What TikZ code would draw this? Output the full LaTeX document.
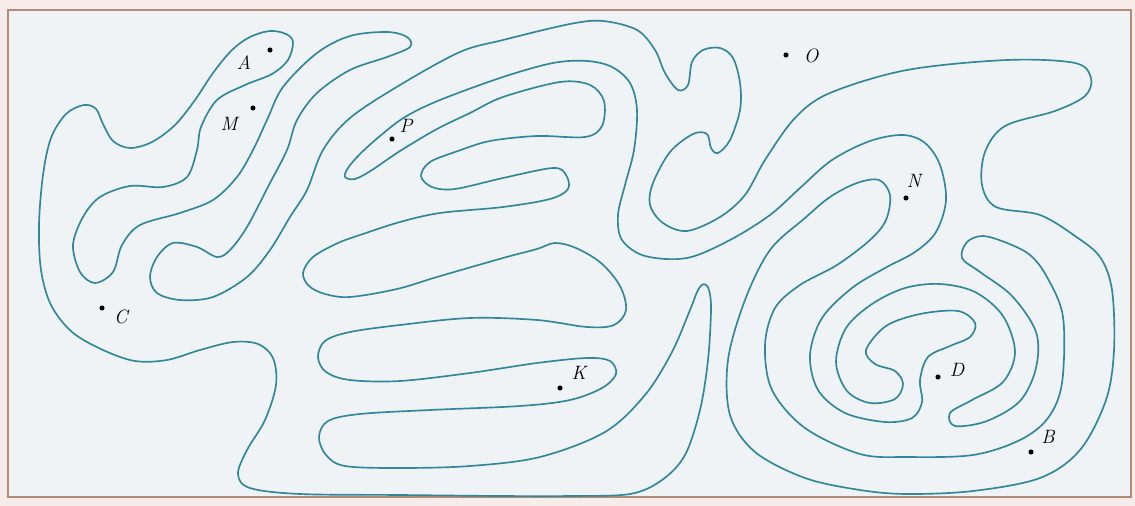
\documentclass[tikz,border=0pt]{standalone}
\usepackage{tikz}
\definecolor{mazeblue}{RGB}{50,135,155}
\definecolor{paper}{RGB}{239,243,246}
\definecolor{outer}{RGB}{246,236,234}
\definecolor{framec}{RGB}{180,140,120}
\tikzset{
  maze/.style={draw=mazeblue, line width=0.95pt, line join=round},
  pt/.style={circle, fill=black, inner sep=0pt, minimum size=2.9pt},
  lab/.style={font=\fontsize{11}{13}\selectfont\itshape, inner sep=0pt}
}
\begin{document}
\begin{tikzpicture}[x=0.02cm, y=-0.02cm]
\useasboundingbox (0,0) rectangle (1135,506);
\fill[outer] (0,0) rectangle (1135,506);
\draw[framec, fill=paper, line width=0.8pt] (8,10) rectangle (1131,497);
\draw[maze] plot[smooth cycle, tension=0.55] coordinates {
(293,42) (286,34) (270,31) (250,37) (232,50) (213,73) (195,100) (175,125) (152,142) (130,148) (113,141) (103,124) (96,109) (84,105) (66,114) (51,138) (43,175) (39,225) (41,270) (51,305) (72,332) (103,350) (135,361) (167,360) (200,350) (233,342) (258,344) (273,358) (276,385) (265,420) (247,450) (238,474) (250,488) (300,494) (400,495) (500,496) (570,496) (630,494) (662,480) (685,455) (700,410) (708,360) (711,310) (709,290) (704,284) (698,290) (690,310) (672,352) (645,395) (605,432) (540,457) (470,466) (400,468) (345,466) (326,455) (319,437) (328,421) (360,414) (430,410) (520,406) (570,400) (602,388) (616,374) (610,361) (587,358) (537,363) (470,373) (400,381) (350,380) (326,372) (318,357) (325,341) (350,332) (400,325) (470,318) (537,320) (587,327) (614,325) (626,310) (620,286) (601,263) (576,248) (555,243) (537,249) (503,258) (437,277) (397,289) (350,297) (325,294) (309,286) (303,273) (313,257) (338,243) (363,234) (400,222) (440,213) (503,207) (550,199) (568,189) (566,175) (553,168) (503,178) (455,189) (432,187) (421,176) (430,162) (458,151) (490,141) (537,136) (585,137) (602,126) (604,101) (590,85) (560,82) (503,97) (470,113) (437,129) (400,151) (372,170) (355,179) (345,177) (348,168) (360,154) (380,136) (405,117) (440,100) (503,77) (553,63) (587,61) (612,67) (630,83) (637,110) (634,150) (625,185) (618,215) (622,240) (645,256) (687,258) (730,240) (770,215) (800,188) (832,160) (870,141) (903,135) (925,143) (940,165) (946,200) (936,232) (915,252) (885,268) (852,288) (822,318) (810,355) (818,390) (845,413) (885,422) (912,418) (922,402) (920,380) (928,357) (950,346) (970,337) (975,323) (958,311) (920,314) (886,326) (866,350) (875,364) (895,371) (903,384) (895,399) (870,403) (847,391) (836,362) (846,328) (872,304) (905,288) (940,284) (975,292) (1003,316) (1015,352) (1003,382) (972,400) (950,413) (955,426) (987,421) (1020,401) (1036,368) (1036,332) (1012,296) (980,272) (962,258) (967,242) (983,236) (1007,243) (1030,255) (1047,277) (1063,317) (1062,383) (1048,418) (1020,440) (973,455) (907,457) (860,454) (805,428) (772,390) (765,345) (775,308) (800,285) (837,265) (870,240) (886,220) (890,195) (879,180) (857,183) (830,197) (805,218) (770,250) (745,300) (728,360) (730,415) (755,452) (805,478) (860,490) (907,494) (973,491) (1040,478) (1080,450) (1106,400) (1114,350) (1112,290) (1100,257) (1075,236) (1040,215) (996,207) (982,185) (985,152) (1005,126) (1055,111) (1085,96) (1091,78) (1075,63) (1007,60) (907,70) (830,93) (795,118) (765,160) (745,195) (720,217) (687,231) (663,223) (650,205) (653,183) (670,152) (693,134) (707,134) (711,148) (718,153) (730,140) (740,110) (740,83) (733,58) (720,48) (703,50) (692,62) (688,85) (678,90) (665,73) (655,50) (637,30) (603,21) (570,24) (503,40) (460,52) (400,85) (350,118) (323,150) (307,190) (290,217) (270,250) (247,277) (213,297) (180,300) (157,293) (150,277) (157,257) (173,243) (197,247) (217,257) (230,250) (247,227) (270,183) (287,150) (297,120) (317,93) (350,70) (387,57) (410,47) (407,37) (387,32) (350,36) (317,53) (283,87) (267,120) (253,150) (237,177) (213,200) (180,213) (140,225) (122,245) (113,272) (95,283) (80,272) (73,245) (83,217) (100,197) (130,186) (163,187) (187,177) (197,150) (201,127) (217,100) (245,85) (272,74) (288,60)
};
% points
\node[pt] (pA) at (270,50) {};
\node[pt] (pM) at (253,108) {};
\node[pt] (pP) at (392,139) {};
\node[pt] (pO) at (786,55) {};
\node[pt] (pN) at (906,198) {};
\node[pt] (pC) at (102,308) {};
\node[pt] (pK) at (560,388) {};
\node[pt] (pD) at (938,377) {};
\node[pt] (pB) at (1031,452) {};
% labels
\node[lab] (lA) at (244,63) {A};
\node[lab] (lM) at (229,124) {M};
\node[lab] (lP) at (406,126) {P};
\node[lab] (lO) at (811,56) {O};
\node[lab] (lN) at (914,181) {N};
\node[lab] (lC) at (121,317) {C};
\node[lab] (lK) at (579,373) {K};
\node[lab] (lD) at (957,370) {D};
\node[lab] (lB) at (1048,437) {B};
\end{tikzpicture}
\end{document}
